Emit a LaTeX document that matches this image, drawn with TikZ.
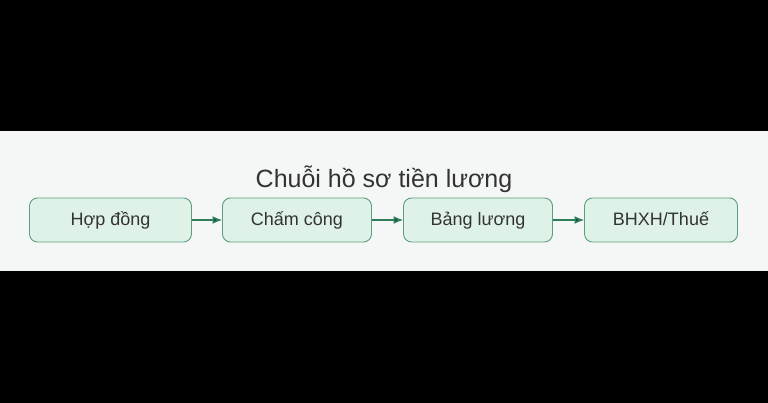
\documentclass[tikz,border=0pt]{standalone}
\usepackage{fontspec}
\setmainfont{Liberation Sans}
\usetikzlibrary{positioning}
\usetikzlibrary{arrows.meta}
\definecolor{bandgray}{HTML}{F5F7F6}
\definecolor{boxfill}{HTML}{DFF2E8}
\definecolor{boxline}{HTML}{5E9E80}
\definecolor{arrowgreen}{HTML}{2E7D5B}
\definecolor{textgray}{HTML}{333333}

\begin{document}
\begin{tikzpicture}[x=1pt, y=1pt, ->, >={Latex[length=10pt,width=8pt]}, font=\fontsize{18}{21}\selectfont, text=textgray]
			\tikzstyle{stage}=[draw=boxline, fill=boxfill, rectangle, rounded corners=8pt, minimum height=44pt, inner sep=0pt, outer sep=0pt, text height=15pt, text depth=3pt, line width=0.9pt]
			\tikzstyle{link}=[draw=arrowgreen, line width=1.8pt]
			
			\fill[black] (0,0) rectangle (768,403);
			\fill[bandgray] (0,132) rectangle (768,272);
			\useasboundingbox (0,0) rectangle (768,403);
			
			\node[stage, minimum width=162pt] (hd) at (110.5,183) {Hợp đồng};
			\node[stage, minimum width=149pt, right=31pt of hd] (cc) {Chấm công};
			\node[stage, minimum width=149pt, right=32pt of cc] (bl) {Bảng lương};
			\node[stage, minimum width=153pt, right=32pt of bl] (bh) {BHXH/Thuế};
			
			\path[link] (hd) edge (cc);
			\path[link] (cc) edge (bl);
			\path[link] (bl) edge (bh);
			
			\node[font=\fontsize{25}{30}\selectfont] (title) at (384,224) {Chuỗi hồ sơ tiền lương};
		\end{tikzpicture}
\end{document}
